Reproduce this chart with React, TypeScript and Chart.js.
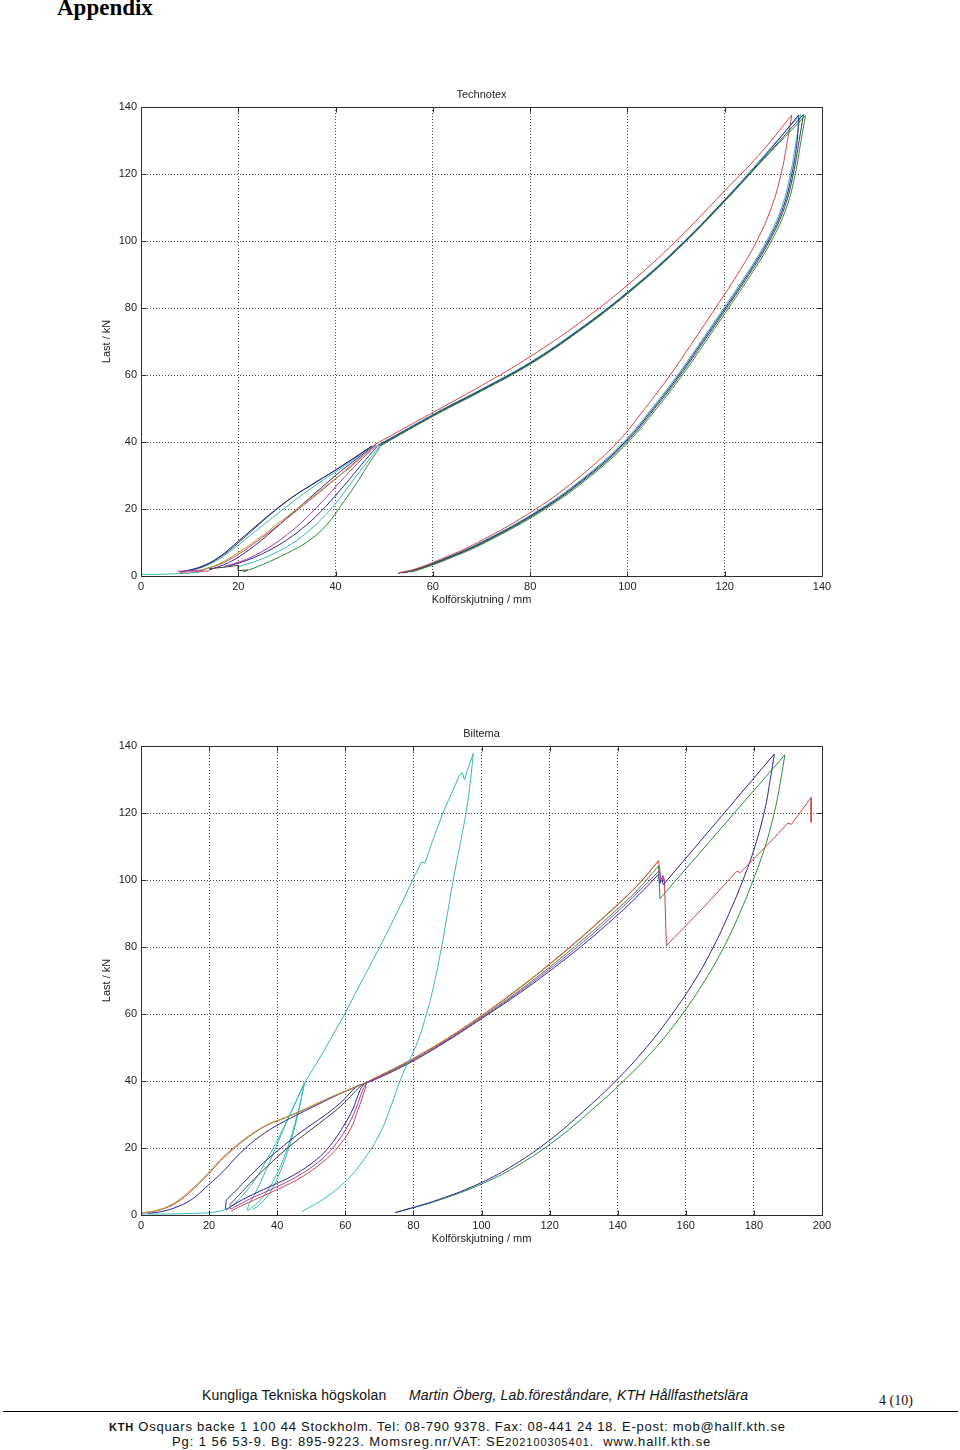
import React, { useEffect, useRef } from "react";
import { Chart, registerables } from "chart.js";

Chart.register(...registerables);

type P = [number, number];

// ---------- axis ticks ----------
const yTicks = [0, 20, 40, 60, 80, 100, 120, 140];
const tecXTicks = [0, 20, 40, 60, 80, 100, 120, 140];
const bilXTicks = [0, 20, 40, 60, 80, 100, 120, 140, 160, 180, 200];

// ---------- Technotex (x: mm, y: kN) ----------
const tecFlatCyan: P[] = [[0, 0.5], [3, 0.5], [6, 0.6], [9, 0.8], [12, 1.1]];
const tecFlatMagenta: P[] = [[7.5, 1.4], [10, 1.6], [13, 1.8]];
const tecFlatRed: P[] = [[8, 1.1], [11, 1.3], [14, 1.5]];
const tecStepBlack: P[] = [[14, 2.2], [17, 2.6], [20, 3.2], [20, 1.6], [22, 1.8]];

const tecLoopBlue1: P[] = [[8, 1.2], [12, 2.6], [16, 5.6], [20, 10.4], [25, 16.6], [30, 22.4], [35, 27.2], [40, 31.6], [44, 35.4], [47.3, 38.6]];
const tecLoopBlack1: P[] = [[9, 1.4], [13, 3], [17, 6.4], [21, 11.2], [26, 17.6], [31, 23.4], [36, 28], [41, 32.6], [47.5, 38.8]];
const tecLoopCyan1: P[] = [[10, 1.5], [14, 3.4], [18, 7], [22, 11.6], [27, 17.4], [32, 23], [37, 28.2], [42, 33], [47.6, 38.9]];
const tecLoopOlive: P[] = [[12, 1.6], [16, 3.6], [20, 7], [24, 11], [29, 16.6], [34, 22.2], [39, 28], [43.5, 33], [48, 39]];
const tecLoopRed: P[] = [[13, 2], [17, 4], [21, 7.4], [25, 11.6], [30, 17.2], [35, 23], [40, 29], [44, 34], [48.2, 39]];
const tecLoopBlue2: P[] = [[14, 1.8], [18, 4], [22, 7.6], [26, 12.2], [31, 18.6], [36, 25], [40, 30], [44, 34.6], [48.2, 39.2]];
const tecLoopMagenta: P[] = [[17, 2.8], [21, 4.6], [25, 7.4], [29, 11.2], [33, 16], [37, 21.8], [41, 28.2], [44.5, 33.6], [48.4, 39]];
const tecLoopBlue3: P[] = [[18, 3], [22, 4.8], [26, 7.4], [30, 10.8], [34, 15.2], [38, 20.8], [42, 27.4], [45.3, 33.2], [48.6, 38.8]];
const tecLoopCyan2: P[] = [[20, 2.8], [24, 4.6], [28, 7.2], [32, 10.6], [36, 15.4], [40, 21.6], [43.5, 28.4], [46.5, 34], [49, 38.8]];
const tecLoopGreen: P[] = [[21, 1.2], [25, 3.4], [30, 6.8], [34, 10], [38, 15], [41.5, 21.8], [44.2, 27.4], [46.6, 33], [49.2, 38.6]];

const tecLoadRed: P[] = [[48, 39.2], [55, 44.8], [62, 50.4], [70, 56.8], [80, 65.5], [90, 75.4], [100, 86.8], [110, 100], [120, 115], [127, 125.6], [133.8, 137.6]];
const tecLoadCyan: P[] = [[48.6, 39], [55, 44.2], [62, 49.8], [70, 55.8], [80, 63.8], [90, 73.6], [100, 84.8], [110, 97.6], [120, 112.4], [128, 125.4], [135.6, 137.8]];
const tecLoadBlue: P[] = [[48.8, 39], [55, 44], [62, 49.6], [70, 55.6], [80, 63.6], [90, 73.4], [100, 84.6], [110, 97.4], [120, 112.2], [128, 125], [135.2, 137.6]];
const tecLoadBlack: P[] = [[49, 38.8], [55, 43.8], [62, 49.4], [70, 55.4], [80, 63.4], [90, 73.2], [100, 84.4], [110, 97.2], [120, 112], [128, 124.6], [136.2, 137.8]];
const tecLoadGreen: P[] = [[49.2, 38.8], [55, 43.6], [62, 49.2], [70, 55.2], [80, 63.2], [90, 73], [100, 84.2], [110, 97], [120, 111.8], [128, 124.4], [136.6, 137.4]];

const tecUnloadRed: P[] = [[133.8, 137.6], [132.9, 130], [131.6, 120], [129.6, 110], [126.6, 100], [122.6, 90], [118.1, 80], [113.5, 70], [108.8, 60], [103.6, 50], [98, 40], [90.5, 30], [81.2, 20], [69.2, 10], [61.6, 5], [56.2, 2], [53, 1]];
const tecUnloadCyan: P[] = [[135.6, 137.8], [134.7, 130], [133.5, 120], [131.7, 110], [128.6, 100], [124.4, 90], [119.8, 80], [115.1, 70], [110.3, 60], [105, 50], [99.2, 40], [91.6, 30], [82.1, 20], [69.8, 10], [62, 5], [56.4, 2], [53.4, 1]];
const tecUnloadBlue: P[] = [[135.2, 137.6], [134.9, 130], [133.8, 120], [132, 110], [128.9, 100], [124.7, 90], [120.1, 80], [115.4, 70], [110.6, 60], [105.3, 50], [99.5, 40], [91.9, 30], [82.4, 20], [70.1, 10], [62.3, 5], [56.7, 2], [54, 0.9]];
const tecUnloadBlack: P[] = [[136.2, 137.8], [135.3, 130], [134.1, 120], [132.3, 110], [129.2, 100], [125, 90], [120.4, 80], [115.7, 70], [110.9, 60], [105.6, 50], [99.8, 40], [92.2, 30], [82.7, 20], [70.4, 10], [62.6, 5], [57, 2], [52.8, 0.8]];
const tecUnloadGreen: P[] = [[136.6, 137.4], [135.7, 130], [134.5, 120], [132.7, 110], [129.6, 100], [125.4, 90], [120.8, 80], [116.1, 70], [111.3, 60], [106, 50], [100.2, 40], [92.6, 30], [83.1, 20], [70.8, 10], [63, 5], [57.4, 2], [55.5, 1.2]];

// ---------- Biltema (x: mm, y: kN) ----------
const bilEnvOlive: P[] = [[0, 0.6], [5, 1.5], [9.8, 3.6], [14.5, 7.4], [19.6, 12.4], [23, 16.2], [26.4, 19.4], [30, 22.4], [34.3, 25.4], [38, 27.4], [42.1, 29], [48, 31.6], [53.8, 34.3], [59, 36.6], [64.6, 38.8]];
const bilEnvRed: P[] = [[0.5, 0.6], [5.5, 1.5], [10.3, 3.6], [15, 7.4], [20, 12.4], [23.4, 16.2], [26.8, 19.4], [30.4, 22.4], [34.6, 25.4], [38.3, 27.4], [42.4, 29], [48.3, 31.6], [54, 34.3], [59.3, 36.6], [64.9, 38.9]];
const bilEnvNavy: P[] = [[2, 0.5], [5.9, 1], [10, 2.2], [14.7, 4.5], [19, 8.2], [24.5, 13.4], [28.3, 17.6], [32.3, 21.4], [36.5, 24.6], [41.1, 27.4], [46, 30], [52, 33], [58, 36], [64.4, 38.9]];

const bilLoopNavyUp: P[] = [[25, 4.4], [28, 7.4], [31, 10.6], [36, 15.6], [41.8, 20.6], [47, 24.8], [53.5, 29.4], [58.5, 33.4], [63.3, 38.3], [65, 39]];
const bilLoopNavyDown: P[] = [[65.3, 38.8], [64.3, 37.2], [62.2, 31.6], [59.4, 26.4], [55.6, 20.8], [51.6, 16.6], [45, 12], [37.9, 8.5], [31, 5.2], [26.5, 2.6], [25, 1.6], [25, 4.4]];
const bilLoopBlackUp: P[] = [[26.2, 3.2], [29, 6.2], [32, 9.4], [37, 14.4], [42.6, 19.6], [48, 24], [54.2, 28.8], [59, 32.8], [64, 38], [65.6, 39.2]];
const bilLoopMagentaDown: P[] = [[66, 39], [65, 37], [63, 31.4], [60.4, 26], [56.6, 20.4], [52.6, 16.2], [46, 11.6], [39, 8], [32, 4.8], [27.5, 2.4], [26.2, 1.8], [26.2, 3.2]];
const bilLoopRedDown: P[] = [[66.2, 39.4], [65.6, 37], [63.8, 31.6], [61.4, 25.4], [57.6, 20], [53.4, 15.8], [47, 11.2], [40, 7.6], [33, 4.4], [28, 2], [26.6, 1.2]];

const bilCyanLoad1: P[] = [[0, 0.3], [8, 0.3], [16, 0.5], [21, 0.8], [24, 1.4], [27, 3], [30, 6], [33.5, 10.6], [37, 16.6], [40.5, 23.2], [44, 30.6], [48, 39.4]];
const bilCyanUnload1: P[] = [[48, 39.4], [46.8, 33.6], [45, 26.6], [42.8, 19.4], [40, 12.4], [37, 7], [34, 3.4], [31.8, 1.6], [31.3, 1.4], [31.6, 3]];
const bilCyanLoad2: P[] = [[31.6, 3], [34, 7.4], [36.8, 13.6], [39.6, 20.2], [42.6, 27.4], [45.4, 33.6], [48, 39.4]];
const bilCyanUnload2: P[] = [[48, 39.4], [47, 34.4], [45.6, 28], [43.6, 20.6], [41, 13.2], [38.2, 7.2], [35.2, 3.4], [32.8, 1.6]];
const bilCyanBig: P[] = [[48, 39.4], [52, 46], [55.6, 52.4], [59.4, 59.2], [63, 66.2], [66.6, 73.2], [70.2, 80.1], [73.5, 86.8], [77, 94], [80, 100.5], [82.4, 105.4], [83.4, 105], [85.6, 111.6], [88.8, 120.4], [91.6, 126.8], [93.6, 131.4], [94.4, 132], [95, 130], [95.8, 132.6], [97.6, 137.8]];
const bilCyanUnload: P[] = [[97.6, 137.8], [96.8, 130], [95.6, 120.9], [93.6, 110], [91.7, 100], [90, 90], [88.3, 80.1], [86.3, 70], [83.9, 60.2], [80.8, 50.6], [77, 42.4], [73.6, 33], [70.2, 24.4], [65.5, 16.6], [60.4, 10.4], [54, 5], [47.2, 1]];

const bilMainOlive: P[] = [[64.6, 38.8], [70, 41.6], [75, 44.1], [80, 46.8], [90, 52.8], [100, 59.6], [110, 67], [120, 75], [130, 83.6], [140, 92.8], [146, 98.6], [152, 105.6]];
const bilMainRed: P[] = [[64.9, 38.9], [70, 41.4], [75, 43.9], [80, 46.6], [90, 52.6], [100, 59.4], [110, 66.8], [120, 74.8], [130, 83.4], [140, 92.6], [146, 98.6], [152, 105.8]];
const bilMainGreen: P[] = [[65.4, 39], [70, 41.2], [80, 46.3], [90, 52.3], [100, 59], [110, 66.2], [120, 74], [130, 82.4], [140, 91.4], [146, 97.2], [152, 104.2]];
const bilMainNavy: P[] = [[66, 39.4], [70, 41], [80, 46], [90, 52], [100, 58.6], [110, 65.4], [120, 72.8], [130, 80.8], [140, 89.6], [146, 95.4], [151.9, 101.6]];
const bilMainMagenta: P[] = [[65.6, 39.2], [70, 41.1], [80, 46.1], [90, 52.2], [100, 58.8], [110, 65.8], [120, 73.4], [130, 81.6], [140, 90.6], [146, 96.4], [152.2, 102.8]];
const bilMagentaWiggle: P[] = [[152.2, 102.8], [152.8, 99.6], [153.3, 101.4], [153.8, 99]];

const bilGreenReload: P[] = [[152, 104.2], [152.4, 94.4], [189.1, 137.4]];
const bilNavyReload: P[] = [[151.9, 101.6], [152.4, 99], [152.9, 100.4], [153.4, 98.6], [186, 137.6]];
const bilRedReload: P[] = [[152, 105.8], [152.6, 101], [153.2, 99.6], [153.7, 100.4], [154.3, 80.4], [165, 91.6], [175, 102.6], [176, 102.2], [186, 112.6], [190, 117], [191, 116.6], [196.8, 124.6], [196.8, 117.2]];

const bilNavyUnload: P[] = [[186, 137.6], [184.8, 130], [183.2, 121], [180.3, 110], [176.8, 100], [172.7, 90], [168.1, 80], [162.6, 70], [156, 60], [148.4, 50], [139.7, 40.3], [130, 31], [120.1, 22.4], [109.6, 15], [99.6, 9.5], [87.4, 4.6], [74.6, 0.7]];
const bilGreenUnload: P[] = [[189.1, 137.4], [187.9, 130], [186.2, 121], [183.3, 110], [179.8, 100], [175.8, 90], [171.2, 80], [165.6, 70], [159, 60], [151.2, 50], [142, 40.3], [132, 31], [121.8, 22.4], [111, 15], [100.6, 9.5], [88, 4.6], [75.2, 0.8]];

// ---------- styling ----------
const COL = {
  b: "#26269a",
  g: "#2a8a3a",
  r: "#d04444",
  c: "#36b6b6",
  m: "#a838a8",
  y: "#a6a03a",
  k: "#3c3c3c",
};

type Series = { pts: P[]; color: string; t?: number };

const tecSeries: Series[] = [
  { pts: tecFlatCyan, color: COL.c },
  { pts: tecFlatMagenta, color: COL.m },
  { pts: tecFlatRed, color: COL.r },
  { pts: tecStepBlack, color: COL.k, t: 0 },
  { pts: tecLoopBlue1, color: COL.b },
  { pts: tecLoopBlack1, color: COL.k },
  { pts: tecLoopCyan1, color: COL.c },
  { pts: tecLoopOlive, color: COL.y },
  { pts: tecLoopRed, color: COL.r },
  { pts: tecLoopBlue2, color: COL.b },
  { pts: tecLoopMagenta, color: COL.m },
  { pts: tecLoopBlue3, color: COL.b },
  { pts: tecLoopCyan2, color: COL.c },
  { pts: tecLoopGreen, color: COL.g },
  { pts: tecLoadRed, color: COL.r },
  { pts: tecLoadGreen, color: COL.g },
  { pts: tecLoadBlack, color: COL.k },
  { pts: tecLoadBlue, color: COL.b },
  { pts: tecLoadCyan, color: COL.c },
  { pts: tecUnloadRed, color: COL.r },
  { pts: tecUnloadGreen, color: COL.g },
  { pts: tecUnloadBlack, color: COL.k },
  { pts: tecUnloadBlue, color: COL.b },
  { pts: tecUnloadCyan, color: COL.c },
];

const bilSeries: Series[] = [
  { pts: bilEnvOlive, color: COL.y },
  { pts: bilEnvRed, color: COL.r },
  { pts: bilEnvNavy, color: COL.b },
  { pts: bilLoopNavyUp, color: COL.b },
  { pts: bilLoopNavyDown, color: COL.b },
  { pts: bilLoopBlackUp, color: COL.k },
  { pts: bilLoopMagentaDown, color: COL.m },
  { pts: bilLoopRedDown, color: COL.r },
  { pts: bilCyanLoad1, color: COL.c },
  { pts: bilCyanUnload1, color: COL.c },
  { pts: bilCyanLoad2, color: COL.c },
  { pts: bilCyanUnload2, color: COL.c },
  { pts: bilCyanBig, color: COL.c, t: 0 },
  { pts: bilCyanUnload, color: COL.c },
  { pts: bilMainMagenta, color: COL.m },
  { pts: bilMagentaWiggle, color: COL.m, t: 0 },
  { pts: bilMainNavy, color: COL.b },
  { pts: bilMainGreen, color: COL.g },
  { pts: bilMainRed, color: COL.r },
  { pts: bilMainOlive, color: COL.y },
  { pts: bilGreenReload, color: COL.g, t: 0 },
  { pts: bilNavyReload, color: COL.b, t: 0 },
  { pts: bilRedReload, color: COL.r, t: 0 },
  { pts: bilNavyUnload, color: COL.b },
  { pts: bilGreenUnload, color: COL.g },
];

const FONT = '"Liberation Sans", Arial, sans-serif';

function makeFramePlugin(title: string) {
  return {
    id: "matlabFrame",
    afterDraw(chart: any) {
      const { ctx, chartArea: a, scales } = chart;
      const xs = scales.x;
      const ys = scales.y;
      ctx.save();
      ctx.strokeStyle = "#2e2e2e";
      ctx.lineWidth = 1;
      const L = Math.round(a.left) + 0.5;
      const T = Math.round(a.top) + 0.5;
      const R = Math.round(a.right) + 0.5;
      const B = Math.round(a.bottom) + 0.5;
      ctx.beginPath();
      ctx.rect(L, T, R - L, B - T);
      ctx.stroke();
      ctx.beginPath();
      xs.ticks.forEach((t: any) => {
        const px = Math.round(xs.getPixelForValue(t.value)) + 0.5;
        ctx.moveTo(px, B);
        ctx.lineTo(px, B - 5);
        ctx.moveTo(px, T);
        ctx.lineTo(px, T + 5);
      });
      ys.ticks.forEach((t: any) => {
        const py = Math.round(ys.getPixelForValue(t.value)) + 0.5;
        ctx.moveTo(L, py);
        ctx.lineTo(L + 5, py);
        ctx.moveTo(R, py);
        ctx.lineTo(R - 5, py);
      });
      ctx.stroke();
      ctx.fillStyle = "#222";
      ctx.font = `11px ${FONT}`;
      ctx.textAlign = "center";
      ctx.textBaseline = "middle";
      ctx.fillText(title, (a.left + a.right) / 2, 15);
      ctx.restore();
    },
  };
}

function Plot({ title, top, xMax, xTicks, series }: { title: string; top: number; xMax: number; xTicks: number[]; series: Series[] }) {
  const ref = useRef<HTMLCanvasElement>(null);
  useEffect(() => {
    const canvas = ref.current;
    if (!canvas) return;
    const tickFont = { family: FONT, size: 11 };
    const chart = new Chart(canvas, {
      type: "scatter",
      data: {
        datasets: series.map((s) => ({
          data: s.pts.map(([x, y]) => ({ x, y })),
          borderColor: s.color,
          backgroundColor: s.color,
          borderWidth: 1,
          showLine: true,
          pointRadius: 0,
          pointHoverRadius: 0,
          tension: s.t ?? 0.4,
          fill: false,
        })),
      },
      options: {
        animation: false,
        responsive: false,
        maintainAspectRatio: false,
        events: [],
        layout: { padding: { left: 0, top: 27, right: 38, bottom: 0 } },
        plugins: {
          legend: { display: false },
          tooltip: { enabled: false },
          title: { display: false },
        },
        scales: {
          x: {
            type: "linear",
            min: 0,
            max: xMax,
            afterFit: (s: any) => {
              s.height = 44;
            },
            afterBuildTicks: (s: any) => {
              s.ticks = xTicks.map((v) => ({ value: v }));
            },
            ticks: { padding: 4, color: "#222", font: tickFont, maxRotation: 0, autoSkip: false },
            grid: { drawTicks: false, color: "rgba(0,0,0,0.72)", lineWidth: 1 },
            border: { display: false, dash: [1, 2] },
            title: {
              display: true,
              text: "Kolförskjutning / mm",
              color: "#222",
              font: tickFont,
              padding: { top: 0, bottom: 13.4 },
            },
          },
          y: {
            type: "linear",
            min: 0,
            max: 140,
            afterFit: (s: any) => {
              s.width = 81;
            },
            afterBuildTicks: (s: any) => {
              s.ticks = yTicks.map((v) => ({ value: v }));
            },
            ticks: { padding: 4, color: "#222", font: tickFont, autoSkip: false },
            grid: { drawTicks: false, color: "rgba(0,0,0,0.72)", lineWidth: 1 },
            border: { display: false, dash: [1, 2] },
            title: {
              display: true,
              text: "Last / kN",
              color: "#222",
              font: tickFont,
              padding: { top: 40.4, bottom: 0 },
            },
          },
        },
      } as any,
      plugins: [makeFramePlugin(title)],
    });
    return () => chart.destroy();
  }, []);
  return (
    <canvas
      ref={ref}
      width={800}
      height={540}
      style={{ position: "absolute", left: 60, top, width: 800, height: 540 }}
    />
  );
}

export default function App() {
  const sans = FONT;
  return (
    <div style={{ position: "absolute", left: 0, top: 0, width: 960, height: 1450, background: "#fff", overflow: "hidden" }}>
      <div style={{ position: "absolute", left: 57, top: -5, font: 'bold 23px "Liberation Serif", serif', color: "#000" }}>Appendix</div>
      <Plot title="Technotex" top={80} xMax={140} xTicks={tecXTicks} series={tecSeries} />
      <Plot title="Biltema" top={719} xMax={200} xTicks={bilXTicks} series={bilSeries} />
      <div style={{ position: "absolute", left: 202, top: 1387, font: `14px ${sans}`, lineHeight: "16px", letterSpacing: "0.15px", color: "#111", whiteSpace: "nowrap" }}>
        Kungliga Tekniska högskolan
      </div>
      <div style={{ position: "absolute", left: 409, top: 1387, font: `italic 14px ${sans}`, lineHeight: "16px", letterSpacing: "0.15px", color: "#111", whiteSpace: "nowrap" }}>
        Martin Öberg, Lab.föreståndare, KTH Hållfasthetslära
      </div>
      <div style={{ position: "absolute", left: 879, top: 1393, font: '14px "Liberation Serif", serif', lineHeight: "16px", color: "#111", whiteSpace: "nowrap" }}>
        4 (10)
      </div>
      <div style={{ position: "absolute", left: 3, top: 1411, width: 955, height: 1, background: "#000" }} />
      <div style={{ position: "absolute", left: 109, top: 1419, font: `13px ${sans}`, lineHeight: "16px", letterSpacing: "0.76px", color: "#111", whiteSpace: "nowrap" }}>
        <span style={{ fontWeight: "bold", fontSize: 11 }}>KTH</span> Osquars backe 1 100 44 Stockholm. Tel: 08-790 9378. Fax: 08-441 24 18. E-post: mob@hallf.kth.se
      </div>
      <div style={{ position: "absolute", left: 172, top: 1434, font: `13px ${sans}`, lineHeight: "16px", letterSpacing: "0.92px", color: "#111", whiteSpace: "nowrap" }}>
        Pg: 1 56 53-9. Bg: 895-9223. Momsreg.nr/VAT: SE<span style={{ fontSize: 11 }}>202100305401</span>.&nbsp; www.hallf.kth.se
      </div>
    </div>
  );
}
